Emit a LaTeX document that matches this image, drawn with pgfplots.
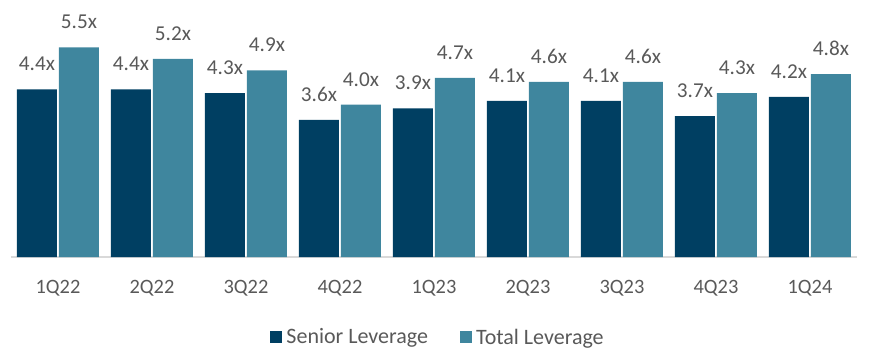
\documentclass[border=0pt]{standalone}
\usepackage{pgfplots}
\pgfplotsset{compat=1.18}
\usepackage{fontspec}
\setmainfont{Carlito}
\definecolor{senior}{HTML}{003F62}
\definecolor{total}{HTML}{3F869E}
\definecolor{txt}{HTML}{595959}
\definecolor{axl}{HTML}{D9D9D9}
\begin{document}
\begin{tikzpicture}
\path[use as bounding box] (0,0) rectangle (436pt,180pt);
\begin{axis}[
  at={(5.5pt,51.5pt)}, anchor=south west,
  scale only axis, width=423pt, height=114.3pt,
  ymin=0, ymax=6, xmin=-0.5, xmax=8.5,
  ybar=1pt, bar width=20pt,
  axis x line*=bottom, axis y line=none,
  axis line style={axl, line width=1pt},
  x axis line style={-},
  xtick={0,...,8},
  xticklabels={1Q22,2Q22,3Q22,4Q22,1Q23,2Q23,3Q23,4Q23,1Q24},
  major tick length=0pt,
  xticklabel style={font=\fontsize{10.2}{12}\selectfont, text=txt, yshift=-8pt},
  /pgf/number format/assume math mode=true,
  clip=false,
  point meta=y,
  nodes near coords={\pgfmathprintnumber[fixed,fixed zerofill,precision=1]{\pgfplotspointmeta}x},
  nodes near coords style={font=\fontsize{10.6}{12}\selectfont, text=txt, anchor=south, inner sep=0pt, yshift=9pt},
  legend columns=2,
  legend style={draw=none, fill=none, at={(0.506,-0.354)}, anchor=center,
    font=\fontsize{11}{13}\selectfont, text=txt,
    /tikz/every even column/.append style={column sep=14pt}},
  legend image code/.code={\fill[#1] (0pt,-2.6pt) rectangle (6pt,3.4pt);},
]
\addplot[fill=senior, draw=none] coordinates {(0,4.4) (1,4.4) (2,4.3) (3,3.6) (4,3.9) (5,4.1) (6,4.1) (7,3.7) (8,4.2)};
\addplot[fill=total, draw=none] coordinates {(0,5.5) (1,5.2) (2,4.9) (3,4.0) (4,4.7) (5,4.6) (6,4.6) (7,4.3) (8,4.8)};
\legend{Senior Leverage, Total Leverage}
\end{axis}
\end{tikzpicture}
\end{document}
